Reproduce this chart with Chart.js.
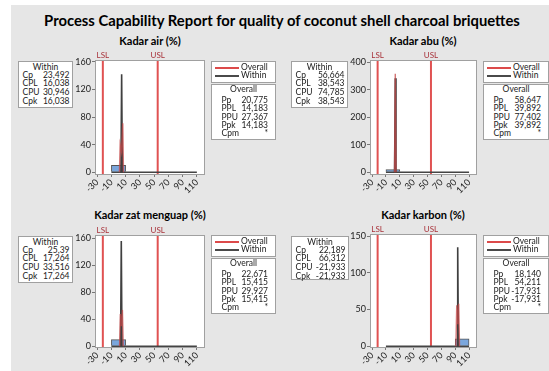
<!DOCTYPE html>
<html><head><meta charset="utf-8">
<script src="https://cdn.jsdelivr.net/npm/chart.js@4.4.1/dist/chart.umd.min.js"></script>
<style>
html,body{margin:0;padding:0;background:#fff;width:549px;height:371px;overflow:hidden;font-family:Lato,'Open Sans',sans-serif;}
#bg{position:absolute;left:11px;top:5px;width:538px;height:366px;background:#e6e6e6;}
.t{position:absolute;white-space:nowrap;font-weight:bold;color:#000;transform:translate(-50%,-50%);}
.box{position:absolute;background:#fff;border:1px solid #a0a0a0;font-size:8.5px;color:#222;box-sizing:border-box;}
.row{position:absolute;white-space:nowrap;line-height:9px;}
canvas{position:absolute;}
</style></head><body>
<div id="bg"></div>
<script>
// ---------- DATA ----------
const mainTitle = "Process Capability Report for quality of coconut shell charcoal briquettes";
const panelTitles = ["Kadar air (%)", "Kadar abu (%)", "Kadar zat menguap (%)", "Kadar karbon (%)"];
const xTicks = [-30, -10, 10, 30, 50, 70, 90, 110];
const binEdges = [-10, 10, 30, 50, 70, 90, 110];
const LSL = -22;
const USL = 55;

const airCounts    = [10, 0, 0, 0, 0, 0];
const abuCounts    = [10, 0, 0, 0, 0, 0];
const zatCounts    = [10, 0, 0, 0, 0, 0];
const karbonCounts = [0, 0, 0, 0, 0, 10];

const airYTicks    = [0, 40, 80, 120, 160];
const abuYTicks    = [0, 100, 200, 300, 400];
const zatYTicks    = [0, 40, 80, 120, 160];
const karbonYTicks = [0, 50, 100, 150];

// fitted curves
const airWithinX = [3.4, 4.4, 5.4];           const airWithinY = [0, 142, 0];
const airOverallX = [1.3, 2.3, 4.2, 6.0, 7.0]; const airOverallY = [0, 40, 30, 71, 0];
const abuWithinX = [2.5, 3.5, 4.5];           const abuWithinY = [0, 342, 0];
const abuOverallX = [2.4, 3.5, 4.6];          const abuOverallY = [0, 358, 0];
const zatWithinX = [2.9, 3.9, 4.9];           const zatWithinY = [0, 156, 0];
const zatOverallX = [1.5, 2.6, 4.0, 5.5, 6.6]; const zatOverallY = [0, 48, 30, 54, 0];
const karbonWithinX = [92.6, 93.6, 94.6];     const karbonWithinY = [0, 135, 0];
const karbonOverallX = [91.0, 92.2, 93.6, 95.0, 96.2]; const karbonOverallY = [0, 56, 30, 58, 0];

const withinLabels = ["Cp", "CPL", "CPU", "Cpk"];
const overallLabels = ["Pp", "PPL", "PPU", "Ppk", "Cpm"];
const airWithin = ["23,492", "16,038", "30,946", "16,038"];
const airOverall = ["20,775", "14,183", "27,367", "14,183", "*"];
const abuWithin = ["56,664", "38,543", "74,785", "38,543"];
const abuOverall = ["58,647", "39,892", "77,402", "39,892", "*"];
const zatWithin = ["25,39", "17,264", "33,516", "17,264"];
const zatOverall = ["22,671", "15,415", "29,927", "15,415", "*"];
const karbonWithin = ["22,189", "66,312", "-21,933", "-21,933"];
const karbonOverall = ["18,140", "54,211", "-17,931", "-17,931", "*"];

// ---------- HELPERS ----------
function addText(txt, cx, cy, size) {
  const d = document.createElement('div');
  d.className = 't'; d.textContent = txt;
  d.style.left = cx + 'px'; d.style.top = cy + 'px'; d.style.fontSize = size + 'px';
  document.body.appendChild(d);
}
function addBox(l, t, w, h) {
  const b = document.createElement('div');
  b.className = 'box';
  Object.assign(b.style, {left: l + 'px', top: t + 'px', width: w + 'px', height: h + 'px'});
  document.body.appendChild(b);
  return b;
}
function addRow(box, txt, top, opts) {
  const r = document.createElement('div');
  r.className = 'row'; r.textContent = txt;
  r.style.top = top + 'px';
  Object.assign(r.style, opts || {});
  box.appendChild(r);
  return r;
}
function statsBoxes(wl, wt, ww, wh, ol, lt, ow, ot, oh, wVals, oVals) {
  const wb = addBox(wl, wt, ww, wh);
  addRow(wb, "Within", 0.5, {left: 0, width: '100%', textAlign: 'center'});
  withinLabels.forEach((lab, i) => {
    addRow(wb, lab, 8.5 + i * 8.7, {left: '3.5px'});
    addRow(wb, wVals[i], 8.5 + i * 8.7, {right: '2.5px'});
  });
  const lb = addBox(ol, lt, ow, 21.5);
  [["Overall", "#dc4a4a"], ["Within", "#4a4a4a"]].forEach((it, i) => {
    const ln = document.createElement('div');
    Object.assign(ln.style, {position: 'absolute', left: '3px', width: '24px', height: '2px',
      top: (4.5 + i * 8.6) + 'px', background: it[1]});
    lb.appendChild(ln);
    addRow(lb, it[0], 0.5 + i * 8.6, {left: '29px'});
  });
  const ob = addBox(ol, ot, ow, oh);
  addRow(ob, "Overall", 0.2, {left: 0, width: '100%', textAlign: 'center'});
  overallLabels.forEach((lab, i) => {
    addRow(ob, lab, 11 + i * 8.3, {left: '9.5px'});
    addRow(ob, oVals[i], 11 + i * 8.3, {right: '7px'});
  });
}

const specPlugin = {
  id: 'spec',
  beforeDraw(chart) {
    const {ctx, chartArea: a} = chart;
    ctx.save(); ctx.fillStyle = '#fff';
    ctx.fillRect(a.left, a.top, a.right - a.left, a.bottom - a.top); ctx.restore();
  },
  beforeDatasetsDraw(chart) {
    const {ctx, chartArea: a, scales} = chart;
    ctx.save();
    [["LSL", LSL], ["USL", USL]].forEach(([lab, v]) => {
      const x = scales.x.getPixelForValue(v);
      ctx.strokeStyle = '#e05252'; ctx.lineWidth = 2;
      ctx.beginPath(); ctx.moveTo(x, a.top); ctx.lineTo(x, a.bottom); ctx.stroke();
      ctx.fillStyle = '#a8323a'; ctx.font = '8px Lato, sans-serif';
      ctx.textAlign = 'center'; ctx.textBaseline = 'bottom';
      ctx.fillText(lab, x, a.top - 1);
    });
    ctx.restore();
  },
  afterDraw(chart) {
    const {ctx, chartArea: a} = chart;
    ctx.save(); ctx.strokeStyle = '#a0a0a0'; ctx.lineWidth = 1;
    ctx.strokeRect(Math.round(a.left) + 0.5, Math.round(a.top) + 0.5,
      Math.round(a.right - a.left), Math.round(a.bottom - a.top));
    ctx.restore();
  }
};

function makePanel(rect, yMin, yMax, yTicks, counts, wX, wY, oX, oY) {
  const padR = 12, yW = 40, padT = 14, xH = 22;
  const cl = rect.L - yW, ct = rect.T - padT;
  const w = rect.R - cl + padR, h = rect.B - ct + xH;
  const cv = document.createElement('canvas');
  cv.width = w; cv.height = h;
  cv.style.left = cl + 'px'; cv.style.top = ct + 'px';
  document.body.appendChild(cv);
  const bars = counts.map((c, i) => ({x: (binEdges[i] + binEdges[i + 1]) / 2, y: c}));
  const base = [{x: binEdges[0], y: 0}, {x: binEdges[binEdges.length - 1], y: 0}];
  new Chart(cv, {
    type: 'bar',
    data: {datasets: [
      {type: 'bar', data: bars, backgroundColor: '#7aa6dc', borderColor: '#555',
       borderWidth: 1, barPercentage: 1, categoryPercentage: 1, order: 4},
      {type: 'line', data: base, borderColor: '#444', borderWidth: 1.5, pointRadius: 0, order: 3},
      {type: 'line', data: wX.map((x, i) => ({x, y: wY[i]})), borderColor: '#404040',
       borderWidth: 1.6, pointRadius: 0, tension: 0, order: 2},
      {type: 'line', data: oX.map((x, i) => ({x, y: oY[i]})), borderColor: 'rgba(196,72,72,0.75)',
       borderWidth: 1.4, pointRadius: 0, tension: 0, order: 1}
    ]},
    options: {
      responsive: false, animation: false,
      layout: {padding: {top: padT, right: padR, left: 0, bottom: 0}},
      plugins: {legend: {display: false}, tooltip: {enabled: false}},
      scales: {
        x: {type: 'linear', min: -33, max: 120, offset: false,
            afterBuildTicks: s => { s.ticks = xTicks.map(v => ({value: v})); },
            afterFit: s => { s.height = xH; },
            grid: {display: true, drawOnChartArea: false, drawTicks: true, tickLength: 3, color: '#777', offset: false},
            border: {display: false},
            ticks: {autoSkip: false, minRotation: 45, maxRotation: 45, padding: 0,
                    font: {size: 9, family: 'Lato'}, color: '#222'}},
        y: {type: 'linear', min: yMin, max: yMax,
            afterBuildTicks: s => { s.ticks = yTicks.map(v => ({value: v})); },
            afterFit: s => { s.width = yW; },
            grid: {display: true, drawOnChartArea: false, drawTicks: true, tickLength: 3, color: '#777'},
            border: {display: false},
            ticks: {padding: 1, font: {size: 9, family: 'Lato'}, color: '#222'}}
      }
    },
    plugins: [specPlugin]
  });
}

// ---------- LAYOUT ----------
addText(mainTitle, 282, 20, 14.8);
addText(panelTitles[0], 150, 40, 11);
addText(panelTitles[1], 423, 40, 11);
addText(panelTitles[2], 150, 214, 11);
addText(panelTitles[3], 423, 214, 11);

makePanel({L: 95, T: 60, R: 204, B: 174}, -2.5, 162.5, airYTicks, airCounts, airWithinX, airWithinY, airOverallX, airOverallY);
makePanel({L: 370, T: 60, R: 476, B: 174}, -6, 408, abuYTicks, abuCounts, abuWithinX, abuWithinY, abuOverallX, abuOverallY);
makePanel({L: 95, T: 235, R: 204, B: 347}, -1, 165, zatYTicks, zatCounts, zatWithinX, zatWithinY, zatOverallX, zatOverallY);
makePanel({L: 370, T: 234, R: 476, B: 347}, -1, 153, karbonYTicks, karbonCounts, karbonWithinX, karbonWithinY, karbonOverallX, karbonOverallY);

statsBoxes(18, 61, 55, 47, 211, 61, 65, 84, 56, airWithin, airOverall);
statsBoxes(291, 61, 57, 47, 483, 61, 66, 84, 56, abuWithin, abuOverall);
statsBoxes(18, 236, 55, 47, 211, 235, 65, 258, 56, zatWithin, zatOverall);
statsBoxes(291, 236, 58, 44, 483, 235, 66, 258, 56, karbonWithin, karbonOverall);
</script>
</body></html>
